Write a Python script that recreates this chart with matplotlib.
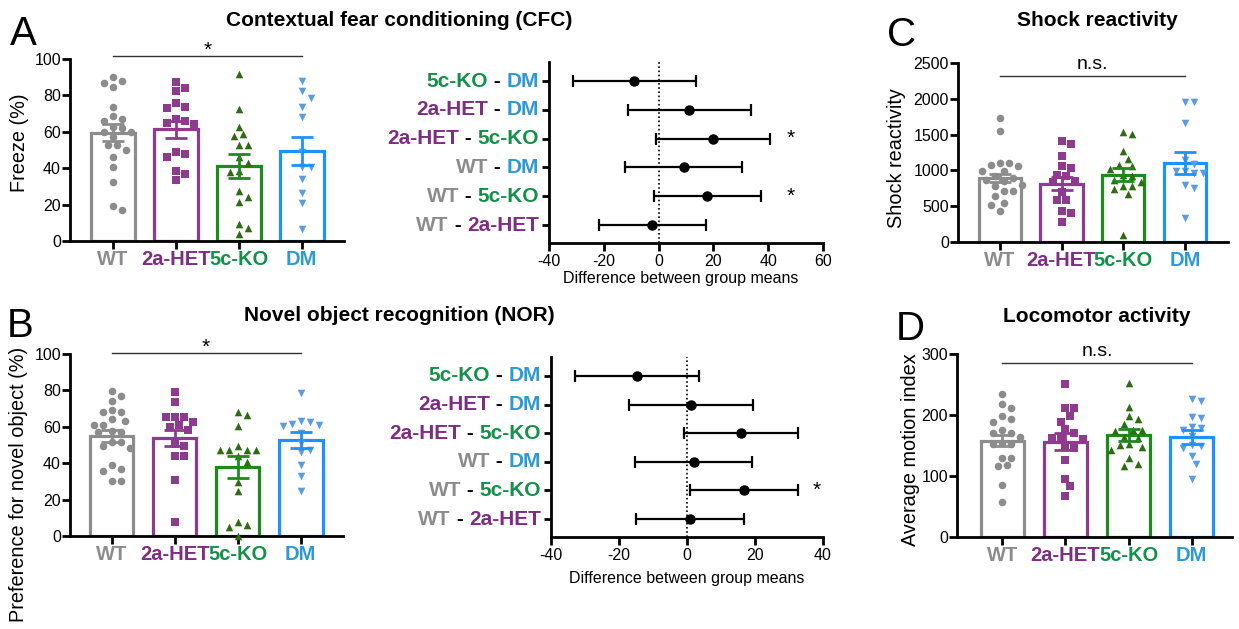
import matplotlib
matplotlib.use('Agg')
import matplotlib.pyplot as plt
from matplotlib.offsetbox import TextArea, HPacker, AnnotationBbox
import numpy as np

plt.rcParams['font.family'] = ['Liberation Sans', 'DejaVu Sans']
plt.rcParams['axes.unicode_minus'] = False

# ---------------- data ----------------
groups = ['WT', '2a-HET', '5c-KO', 'DM']

# Contextual fear conditioning (freeze %)
cfc_wt = [88, 90.3, 84.6, 87, 73.9, 67, 68.6, 62, 65.8, 62.7, 60, 60, 57.4, 53, 53, 50, 46.3, 40.8, 32.5, 17.3, 19.1]
cfc_het = [87.5, 82.4, 84, 76, 73.9, 73.2, 65.8, 67, 64.3, 64.7, 48, 48.9, 46.3, 38.6, 36.8, 33.5]
cfc_ko = [91.9, 72.4, 62.9, 57.9, 58.8, 52.8, 52.8, 46.3, 42.6, 38.4, 38.1, 27.4, 24.3, 21.5, 9.2, 7.2, 4]
cfc_dm = [87.7, 82.2, 78.5, 73.9, 68.4, 49.1, 40.8, 40.4, 33.8, 26.1, 21.1, 6.8]
cfc_mean = [59.6, 61.4, 41.2, 49.6]
cfc_sem = [4.7, 4.8, 6.5, 7.7]

# Novel object recognition (preference %)
nor_wt = [79.9, 77, 74.4, 69.3, 68, 68, 63.4, 64.4, 61.1, 61.1, 57.8, 57.4, 57, 51.9, 51.9, 48.3, 49.2, 38.8, 36.9, 35.5, 30.3, 30.3]
nor_het = [79.3, 73.7, 65.6, 65.6, 65.6, 61.1, 62.5, 58, 60.1, 49.2, 50.5, 44.1, 44.1, 30.9, 7.5]
nor_ko = [66.5, 68.4, 60.5, 47.3, 49.5, 47.3, 47.3, 47, 43.7, 40.4, 29.4, 24.5, 5.9, 7.5, 4.8, 0]
nor_dm = [78.8, 62.9, 61.1, 61.7, 63.4, 60.7, 56.5, 51, 47.3, 46.3, 38.8, 33.1, 24.5]
nor_mean = [54.7, 53.7, 37.8, 52.5]
nor_sem = [3.3, 4.5, 5.9, 4.4]

# Shock reactivity
shock_wt = [1732, 1546, 1103, 1103, 1071, 1057, 987, 987, 917, 894, 871, 847, 801, 777, 708, 708, 638, 545, 521, 428]
shock_het = [1406, 1373, 1196, 1057, 1033, 940, 917, 847, 833, 694, 591, 591, 428, 405, 279]
shock_ko = [1536, 1508, 1266, 1159, 1080, 1057, 1020, 940, 917, 871, 833, 787, 740, 777, 670, 102]
shock_dm = [1951, 1951, 1662, 1150, 1085, 987, 964, 987, 964, 801, 754, 335]
shock_mean = [898, 814, 940, 1103]
shock_sem = [55, 90, 95, 150]

# Locomotor activity
loco_wt = [234.3, 210.8, 217.3, 193.2, 188.9, 198.7, 169.7, 169.7, 175.2, 164.2, 152.2, 153.3, 152.2, 130.3, 130.3, 116, 117.7, 84.9, 57.5]
loco_het = [250.2, 210.8, 211.9, 198.7, 188.9, 176.3, 170.8, 161.5, 164.2, 159.9, 146.7, 148.9, 127, 95.8, 83.8, 66.8]
loco_ko = [252.9, 212.4, 198.2, 192.7, 185, 175.2, 175.2, 174.1, 164.2, 161.5, 152.2, 150.6, 147.8, 143.4, 128.7, 116, 119.3]
loco_dm = [226.1, 223.4, 194.3, 196, 179.6, 175.2, 178.9, 165.3, 146.7, 148.9, 150.6, 133, 119.3, 94.7]
loco_mean = [157.7, 156.0, 167.5, 164.2]
loco_sem = [9, 14, 10, 12]

# Pairwise comparisons (top row first)
pairs = [('5c-KO', 'DM'), ('2a-HET', 'DM'), ('2a-HET', '5c-KO'),
         ('WT', 'DM'), ('WT', '5c-KO'), ('WT', '2a-HET')]
cfc_diff = [-8.8, 11.2, 19.9, 9.3, 17.8, -2.3]
cfc_lo = [-31.2, -11.2, -0.9, -12.1, -1.8, -21.8]
cfc_hi = [13.8, 33.8, 40.6, 30.5, 37.4, 17.4]
cfc_sig = ['', '', '*', '', '*', '']
nor_diff = [-14.7, 1.1, 15.9, 2.1, 16.7, 0.8]
nor_lo = [-32.9, -17.0, -1.0, -15.2, 1.0, -15.0]
nor_hi = [3.4, 19.3, 32.7, 19.1, 32.6, 16.7]
nor_sig = ['', '', '', '', '*', '']

# ---------------- styles ----------------
LABEL_COL = {'WT': '#8c8c8c', '2a-HET': '#7f2c85', '5c-KO': '#139149', 'DM': '#2b9ad6'}
BAR_COL = {'WT': '#8c8c8c', '2a-HET': '#8e3a8e', '5c-KO': '#1d8a1d', 'DM': '#1e90ff'}
MK_COL = {'WT': '#8c8c8c', '2a-HET': '#8e3a8e', '5c-KO': '#2f6b12', 'DM': '#5b9be6'}
MARKER = {'WT': 'o', '2a-HET': 's', '5c-KO': '^', 'DM': 'v'}

W, H = 1239, 629
fig = plt.figure(figsize=(W / 100, H / 100), dpi=100)


def add_ax(l, r, t, b):
    return fig.add_axes([l / W, 1 - b / H, (r - l) / W, (b - t) / H])


def swarm(vals, ypx, xpx, d=8.5, step=4.5):
    vals = np.asarray(vals, float)
    order = np.argsort(-vals, kind='stable')
    placed = []
    offs = np.zeros(len(vals))
    cands = [0.0] + [s * step * j for j in range(1, 40) for s in (1, -1)]
    for i in order:
        y = vals[i] * ypx
        c = 0.0
        for c in cands:
            if all((c - px) ** 2 + (y - py) ** 2 >= d * d for px, py in placed):
                break
        placed.append((c, y))
        offs[i] = c / xpx
    return offs


def style_axes(ax, ysize):
    for s in ('top', 'right'):
        ax.spines[s].set_visible(False)
    for s in ('left', 'bottom'):
        ax.spines[s].set_linewidth(2)
    ax.tick_params(direction='out', length=6, width=2, labelsize=ysize, pad=1.5)


def bar_panel(box, xlim, pts, means, sems, ymax, ystep, sig_y, sig_text, sig_size):
    ax = add_ax(*box)
    ax.set_xlim(*xlim)
    ax.set_ylim(0, ymax)
    style_axes(ax, 11.5)
    pos = ax.get_position()
    xpx = pos.width * W / (xlim[1] - xlim[0])
    ypx = pos.height * H / ymax
    for i, g in enumerate(groups):
        ax.bar(i, means[i], width=0.69, facecolor='white', edgecolor=BAR_COL[g],
               linewidth=2.3, zorder=2)
        offs = swarm(pts[i], ypx, xpx)
        ax.scatter(i + offs, pts[i], marker=MARKER[g], s=30, color=MK_COL[g],
                   linewidths=0, zorder=3, clip_on=False)
        ax.errorbar(i, means[i], yerr=sems[i], fmt='none', ecolor=BAR_COL[g],
                    elinewidth=2, capsize=8, capthick=2, zorder=4)
    ax.set_yticks(np.arange(0, ymax + 1, ystep))
    ax.set_xticks(range(len(groups)))
    ax.set_xticklabels(groups, fontsize=14.5, fontweight='bold')
    for lab, g in zip(ax.get_xticklabels(), groups):
        lab.set_color(LABEL_COL[g])
    ax.tick_params(axis='x', pad=0.5)
    ax.tick_params(axis='y', pad=0.5)
    ax.plot([0, 3], [sig_y, sig_y], color='#333333', lw=1, clip_on=False)
    ax.annotate(sig_text, (1.5, sig_y), xytext=(0, -3 if sig_text == '*' else 2),
                textcoords='offset points', ha='center', va='bottom',
                fontsize=sig_size, annotation_clip=False)
    return ax


def forest_panel(box, xlim, xticks, diff, lo, hi, sig, star_x):
    ax = add_ax(*box)
    style_axes(ax, 11.5)
    n = len(pairs)
    rows = np.arange(n, 0, -1)
    diff = np.asarray(diff)
    xerr = [diff - np.asarray(lo), np.asarray(hi) - diff]
    ax.axvline(0, color='black', lw=1.2, ls=(0, (1, 1.5)), zorder=1)
    ax.errorbar(diff, rows, xerr=xerr, fmt='o', color='black', ms=6.5,
                elinewidth=1.6, capsize=4.5, capthick=1.6, zorder=3)
    ax.set_xlim(*xlim)
    ax.set_ylim(0.375, n + 0.66)
    ax.set_xticks(xticks)
    ax.set_yticks(rows)
    ax.set_yticklabels([])
    ax.tick_params(axis='y', length=5)
    ax.tick_params(axis='x', pad=2)
    for r, (a, b), s in zip(rows, pairs, sig):
        tp = dict(fontsize=15, fontweight='bold')
        parts = [TextArea(a, textprops=dict(color=LABEL_COL[a], **tp)),
                 TextArea(' - ', textprops=dict(color='black', **tp)),
                 TextArea(b, textprops=dict(color=LABEL_COL[b], **tp))]
        box_ = HPacker(children=parts, align='baseline', pad=0, sep=0)
        ab = AnnotationBbox(box_, (0, r), xycoords=('axes fraction', 'data'),
                            xybox=(-7, 0), boxcoords='offset points',
                            box_alignment=(1, 0.5), frameon=False, pad=0,
                            annotation_clip=False)
        ax.add_artist(ab)
        if s:
            ax.text(star_x, r, s, ha='center', va='center', fontsize=15,
                    clip_on=False)
    return ax


# ---------------- panels ----------------
bar_panel((70, 344, 59, 241), (-0.68, 3.67), [cfc_wt, cfc_het, cfc_ko, cfc_dm],
          cfc_mean, cfc_sem, 100, 20, 101.6, '*', 15)
bar_panel((70, 343, 354, 536), (-0.66, 3.67), [nor_wt, nor_het, nor_ko, nor_dm],
          nor_mean, nor_sem, 100, 20, 100.5, '*', 15)
bar_panel((958, 1228, 63, 242), (-0.68, 3.70), [shock_wt, shock_het, shock_ko, shock_dm],
          shock_mean, shock_sem, 2500, 500, 2322, 'n.s.', 14)
bar_panel((957, 1232, 354, 537), (-0.72, 3.64), [loco_wt, loco_het, loco_ko, loco_dm],
          loco_mean, loco_sem, 300, 100, 285.8, 'n.s.', 14)

forest_panel((549, 823, 62, 243), (-40, 60), [-40, -20, 0, 20, 40, 60],
             cfc_diff, cfc_lo, cfc_hi, cfc_sig, 48.3)
forest_panel((551, 823, 357, 537), (-40, 40), [-40, -20, 0, 20, 40],
             nor_diff, nor_lo, nor_hi, nor_sig, 38.2)


def ftext(x, y, s, **kw):
    fig.text(x / W, 1 - y / H, s, **kw)


# y labels
ftext(20, 143, 'Freeze (%)', rotation=90, ha='center', va='center', fontsize=14.3)
ftext(19, 484, 'Preference for novel object (%)', rotation=90, ha='center', va='center', fontsize=14.3)
ftext(896, 158, 'Shock reactivity', rotation=90, ha='center', va='center', fontsize=14.3)
ftext(911, 450, 'Average motion index', rotation=90, ha='center', va='center', fontsize=14.3)

# x labels of forest plots
ftext(681, 278, 'Difference between group means', ha='center', va='center', fontsize=11.5)
ftext(687, 578, 'Difference between group means', ha='center', va='center', fontsize=11.5)

# titles
ftext(399, 20, 'Contextual fear conditioning (CFC)', ha='center', va='center', fontsize=15, fontweight='bold')
ftext(399, 316, 'Novel object recognition (NOR)', ha='center', va='center', fontsize=15, fontweight='bold')
ftext(1097, 20, 'Shock reactivity', ha='center', va='center', fontsize=15, fontweight='bold')
ftext(1097, 317, 'Locomotor activity', ha='center', va='center', fontsize=15, fontweight='bold')

# panel letters
ftext(10, 45, 'A', ha='left', va='baseline', fontsize=29)
ftext(7, 337, 'B', ha='left', va='baseline', fontsize=29)
ftext(887, 46, 'C', ha='left', va='baseline', fontsize=29)
ftext(896, 340, 'D', ha='left', va='baseline', fontsize=29)

fig.savefig('out.png', dpi=100)
